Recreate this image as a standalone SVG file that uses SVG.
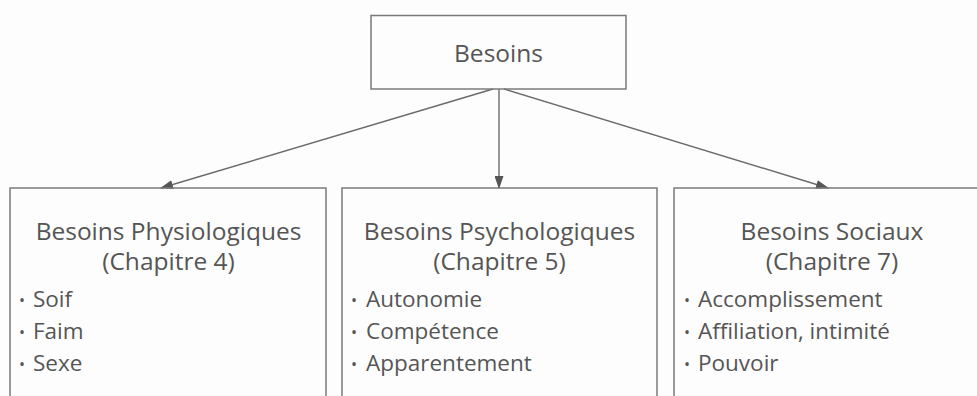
<svg xmlns="http://www.w3.org/2000/svg" width="977" height="396" viewBox="0 0 977 396">
<style>
.box{fill:none;stroke:#7a7a7a;stroke-width:1.5}
.edge{stroke:#6a6a6a;stroke-width:1.4;fill:none}
.h{font-family:"Open Sans","Noto Sans",sans-serif;font-size:24.5px;fill:#555;text-anchor:middle}
.it{font-family:"Open Sans","Noto Sans",sans-serif;font-size:22.5px;fill:#555}
.b{font-family:"Open Sans","Noto Sans",sans-serif;font-size:16px;fill:#555}
</style>
<defs>
<marker id="ah" markerWidth="13" markerHeight="9" refX="12" refY="4.5" orient="auto" markerUnits="userSpaceOnUse">
<path d="M0,0 L13,4.5 L0,9 Z" fill="#555"/>
</marker>
</defs>
<rect width="977" height="396" fill="#fdfdfd"/>
<g id="connectors">
<line class="edge" x1="493" y1="89" x2="161" y2="188" marker-end="url(#ah)"/>
<line class="edge" x1="499" y1="89" x2="499" y2="188" marker-end="url(#ah)"/>
<line class="edge" x1="504" y1="89" x2="828" y2="188" marker-end="url(#ah)"/>
</g>
<g id="besoins">
<rect class="box" x="371" y="15.5" width="255" height="73.5"/>
<text class="h" x="498.5" y="62">Besoins</text>
</g>
<g id="physiologiques">
<rect class="box" x="10" y="188" width="316" height="240"/>
<text class="h" x="168.5" y="240">Besoins Physiologiques</text>
<text class="h" x="168.5" y="270">(Chapitre 4)</text>
<text class="b" x="19" y="306">•</text><text class="it" x="33" y="307">Soif</text>
<text class="b" x="19" y="338">•</text><text class="it" x="33" y="339">Faim</text>
<text class="b" x="19" y="370">•</text><text class="it" x="33" y="371">Sexe</text>
</g>
<g id="psychologiques">
<rect class="box" x="342" y="188" width="315" height="240"/>
<text class="h" x="499.5" y="240">Besoins Psychologiques</text>
<text class="h" x="499.5" y="270">(Chapitre 5)</text>
<text class="b" x="351" y="306">•</text><text class="it" x="366" y="307">Autonomie</text>
<text class="b" x="351" y="338">•</text><text class="it" x="366" y="339">Compétence</text>
<text class="b" x="351" y="370">•</text><text class="it" x="366" y="371">Apparentement</text>
</g>
<g id="sociaux">
<rect class="box" x="674" y="188" width="330" height="240"/>
<text class="h" x="832" y="240">Besoins Sociaux</text>
<text class="h" x="832" y="270">(Chapitre 7)</text>
<text class="b" x="684" y="306">•</text><text class="it" x="698" y="307">Accomplissement</text>
<text class="b" x="684" y="338">•</text><text class="it" x="698" y="339">Affiliation, intimité</text>
<text class="b" x="684" y="370">•</text><text class="it" x="698" y="371">Pouvoir</text>
</g>
</svg>
